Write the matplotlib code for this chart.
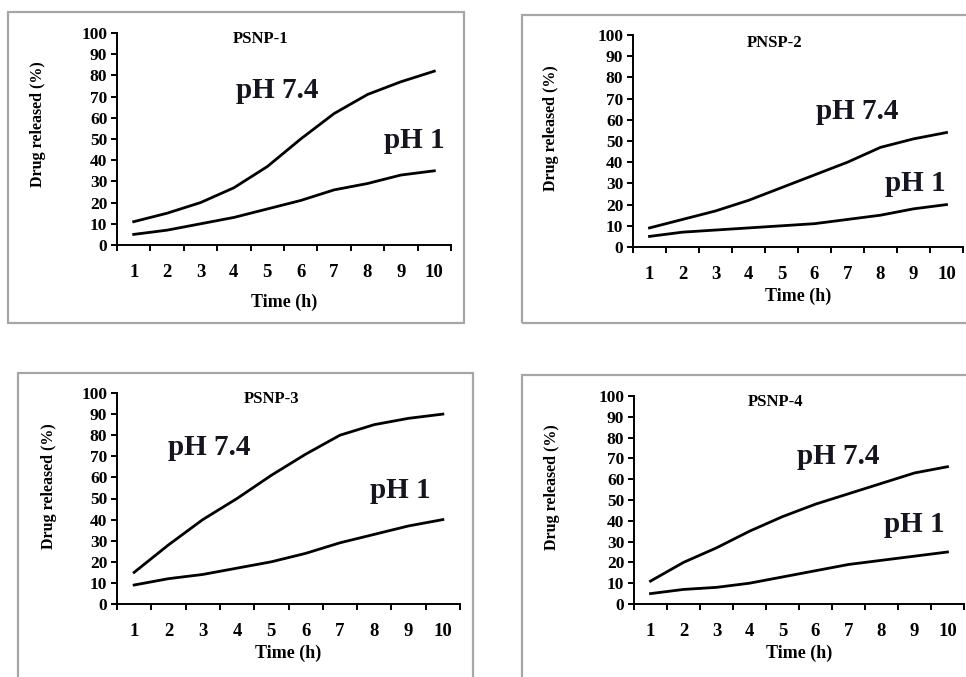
import matplotlib
matplotlib.use("Agg")
import matplotlib.pyplot as plt
from matplotlib.patches import Rectangle

plt.rcParams['font.family'] = ['Liberation Serif', 'DejaVu Serif']

time_h = [1, 2, 3, 4, 5, 6, 7, 8, 9, 10]
titles = ["PSNP-1", "PNSP-2", "PSNP-3", "PSNP-4"]

# drug released (%) at pH 7.4 and pH 1
ph74_1 = [11, 15, 20, 27, 37, 50, 62, 71, 77, 82]
ph1_1 = [5, 7, 10, 13, 17, 21, 26, 29, 33, 35]
ph74_2 = [9, 13, 17, 22, 28, 34, 40, 47, 51, 54]
ph1_2 = [5, 7, 8, 9, 10, 11, 13, 15, 18, 20]
ph74_3 = [15, 28, 40, 50, 61, 71, 80, 85, 88, 90]
ph1_3 = [9, 12, 14, 17, 20, 24, 29, 33, 37, 40]
ph74_4 = [11, 20, 27, 35, 42, 48, 53, 58, 63, 66]
ph1_4 = [5, 7, 8, 10, 13, 16, 19, 21, 23, 25]

W, H = 966, 677
fig = plt.figure(figsize=(W / 100, H / 100), dpi=100)

# pixel layout: axes box (left, right, top, bottom), frame box, label spots
axes_px = [(117, 451, 33, 245), (633, 963, 35, 247),
           (117, 460, 393, 604), (634, 964, 396, 604)]
frames_px = [(8, 464, 12, 323), (522, 1000, 15, 323),
             (18, 473, 373, 700), (522, 1000, 375, 700)]
xlab_pad = [9, 3, 3, 3]
title_pos = [(0.43, 0.97), (0.43, 0.96), (0.45, 0.97), (0.43, 0.97)]
ylab_pos = [(-0.213, 0.57), (-0.223, 0.56), (-0.174, 0.56), (-0.223, 0.56)]
hi_pos = [(5.3, 73), (7.3, 64), (3.2, 74), (6.7, 71)]
lo_pos = [(9.4, 49.5), (9.05, 30), (8.75, 54), (9.0, 38)]

series = [(ph74_1, ph1_1), (ph74_2, ph1_2), (ph74_3, ph1_3), (ph74_4, ph1_4)]

for i in range(4):
    fl, fr, ft, fb = frames_px[i]
    fig.patches.append(Rectangle((fl / W, 1 - fb / H), (fr - fl) / W, (fb - ft) / H,
                                 transform=fig.transFigure, fill=False,
                                 edgecolor='#a6a6a6', linewidth=1.6))

    l, r, t, b = axes_px[i]
    ax = fig.add_axes([l / W, 1 - b / H, (r - l) / W, (b - t) / H])
    hi, lo = series[i]
    ax.plot(time_h, hi, color='black', linewidth=2.0)
    ax.plot(time_h, lo, color='black', linewidth=2.0)

    ax.set_xlim(0.5, 10.5)
    ax.set_ylim(0, 100)
    for s in ['top', 'right']:
        ax.spines[s].set_visible(False)
    for s in ['left', 'bottom']:
        ax.spines[s].set_linewidth(1.4)

    ax.set_yticks(range(0, 101, 10))
    ax.set_xticks(time_h)
    ax.set_xticks([x + 0.5 for x in range(0, 11)], minor=True)
    ax.tick_params(axis='x', which='major', length=0, pad=14, labelsize=13.5)
    ax.tick_params(axis='x', which='minor', length=4, width=1.4, direction='out')
    ax.tick_params(axis='y', length=4, width=1.4, pad=3, labelsize=12.5)
    for lab in ax.get_xticklabels() + ax.get_yticklabels():
        lab.set_fontweight('bold')

    ax.set_xlabel("Time (h)", fontsize=13, fontweight='bold', labelpad=xlab_pad[i])
    ax.set_ylabel("Drug released (%)", fontsize=11.5, fontweight='bold')
    ax.yaxis.set_label_coords(*ylab_pos[i])

    ax.text(title_pos[i][0], title_pos[i][1], titles[i], transform=ax.transAxes,
            ha='center', va='center', fontsize=12, fontweight='bold')
    ax.text(hi_pos[i][0], hi_pos[i][1], "pH 7.4", ha='center', va='center',
            fontsize=21, fontweight='bold', color='#15151f')
    ax.text(lo_pos[i][0], lo_pos[i][1], "pH 1", ha='center', va='center',
            fontsize=21, fontweight='bold', color='#15151f')

fig.savefig("out.png", dpi=100)
